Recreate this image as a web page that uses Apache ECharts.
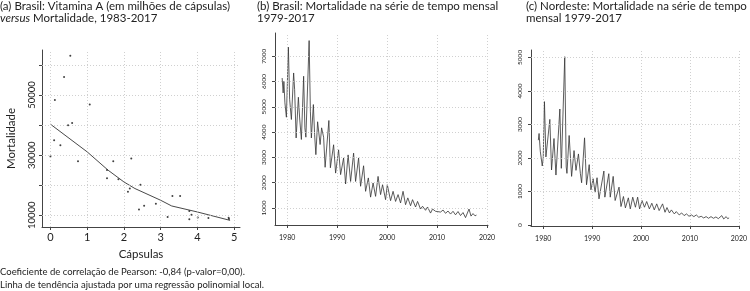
<!DOCTYPE html>
<html>
<head>
<meta charset="utf-8">
<script src="https://cdn.jsdelivr.net/npm/echarts@6/dist/echarts.min.js"></script>
<style>
  html, body { margin: 0; padding: 0; background: #fff; }
  #chart { width: 750px; height: 291px; }
</style>
</head>
<body>
<div id="chart"></div>
<script>
'use strict';

// (a) cápsulas (milhões) x mortalidade, 1983-2017
var capsulas = [0.54, 0.37, 0.12, 1.07, 0.48, 0.59, 0.10, 0.27, 0.0, 0.75, 1.71, 2.2, 1.54, 1.54, 1.85,
    2.45, 2.16, 2.11, 3.32, 3.53, 2.87, 2.55, 2.41, 3.78, 3.84, 3.19, 4.01, 4.3, 3.78, 4.85, 4.86];
var mortalidade = [63100, 56000, 48400, 46900, 40000, 40700, 35000, 33300, 29600, 28000, 28000, 28900, 25100, 22300, 22000,
    20200, 18900, 17800, 16400, 16400, 13800, 13200, 11900, 11400, 10200, 9400, 9300, 9100, 8700, 9200, 8800];
// linha de tendência (loess)
var trendX = [0, 1.0, 1.57, 2.0, 2.3, 3.0, 3.3, 4.0, 4.89];
var trendY = [40300, 31100, 25000, 21100, 18900, 15000, 13100, 11100, 8300];

// (b) Brasil, série mensal (picos e vales)
var brasilT = [1979.0, 1979.2, 1979.35, 1979.55, 1979.85, 1980.25, 1980.5, 1980.85, 1981.3, 1981.5, 1981.8,
    1982.25, 1982.5, 1982.85, 1983.3, 1983.55, 1983.75, 1984.4, 1984.65, 1984.85, 1985.25, 1985.5, 1985.75,
    1986.1, 1986.6, 1986.9, 1987.3, 1987.6, 1988.35, 1988.65, 1989.3, 1989.7, 1990.3, 1990.7, 1991.3, 1991.7,
    1992.2, 1992.7, 1993.3, 1993.7, 1994.3, 1994.7, 1995.3, 1995.7, 1996.25, 1996.7, 1997.2, 1997.7,
    1998.2, 1998.7, 1999.1, 1999.7, 2000.05, 2000.7, 2001.2, 2001.7, 2002.2, 2002.7, 2003.2, 2003.7,
    2004.15, 2004.7, 2005.1, 2005.7, 2006.1, 2006.7, 2007.1, 2007.7, 2008.1, 2008.7, 2009.1, 2009.7,
    2010.1, 2010.7, 2011.2, 2011.7, 2012.2, 2012.7, 2013.2, 2013.7, 2014.2, 2014.7, 2015.2, 2015.7,
    2016.4, 2016.8, 2017.2, 2017.6, 2017.9];
var brasilV = [6140, 5550, 6010, 5160, 4590, 7360, 5300, 4500, 6340, 5680, 3770,
    5380, 4560, 3710, 6210, 4170, 3800, 7620, 4830, 3770, 5090, 3900, 3110,
    4410, 3510, 4170, 3800, 2610, 4460, 2590, 3500, 2380, 3300, 2320, 2980, 1950,
    3100, 2050, 3170, 2050, 2980, 1860, 2670, 1660, 2190, 1430, 1990, 1460,
    2250, 1530, 1920, 1330, 1920, 1290, 1660, 1260, 1530, 1200, 1660, 1130,
    1400, 1090, 1330, 1040, 1260, 960, 1070, 910, 1040, 800, 960, 870,
    935, 840, 920, 790, 880, 760, 870, 730, 860, 700, 820, 620,
    960, 680, 780, 690, 720];

// (c) Nordeste, série mensal (picos e vales)
var nordesteT = [1979.0, 1979.15, 1979.4, 1979.8, 1980.0, 1980.25, 1980.55, 1980.8, 1981.35, 1981.7,
    1982.2, 1982.6, 1983.4, 1983.7, 1984.4, 1984.7, 1984.85, 1985.3, 1985.8, 1986.3, 1986.7, 1987.2, 1987.6,
    1987.85, 1988.45, 1988.85, 1989.4, 1989.75, 1990.2, 1990.6, 1991.0, 1991.4, 1992.4, 1992.6, 1993.4, 1993.7,
    1994.3, 1994.7, 1995.5, 1995.9, 1996.4, 1996.8, 1997.4, 1997.8, 1998.3, 1998.85, 1999.3, 1999.7,
    2000.2, 2000.7, 2001.15, 2001.7, 2002.2, 2002.7, 2003.2, 2003.7, 2004.4, 2004.9, 2005.3, 2005.8,
    2006.2, 2006.8, 2007.2, 2007.8, 2008.3, 2008.8, 2009.3, 2009.8, 2010.3, 2010.8, 2011.3, 2011.8,
    2012.3, 2012.8, 2013.3, 2013.8, 2014.3, 2014.8, 2015.3, 2015.8, 2016.5, 2016.9, 2017.4, 2017.7, 2018.0];
var nordesteV = [2530, 2730, 2200, 1760, 2000, 3680, 2030, 2030, 3150, 1640,
    2580, 1490, 3460, 1690, 5020, 1730, 1540, 2670, 1450, 2220, 1630, 2120, 1530,
    1260, 2600, 1200, 1800, 1050, 1380, 980, 1410, 780, 1610, 830, 1530, 830,
    1450, 730, 1130, 550, 850, 510, 810, 480, 830, 530, 830, 480,
    730, 530, 700, 480, 650, 450, 630, 430, 630, 380, 520, 360,
    450, 330, 400, 300, 360, 280, 330, 260, 300, 250, 300, 230,
    260, 210, 250, 200, 250, 200, 240, 190, 280, 180, 250, 190, 210];

// ticks
var capsTicks = [0, 1, 2, 3, 4, 5];
var mortTicks = [10000, 20000, 30000, 40000, 50000, 60000];
var anoTicks = [1980, 1990, 2000, 2010, 2020];
var brasilTicks = [1000, 2000, 3000, 4000, 5000, 6000, 7000];
var nordesteTicks = [0, 1000, 2000, 3000, 4000, 5000];

function pares(xs, ys) {
    return xs.map(function (x, i) { return [x, ys[i]]; });
}

function gradeLinhas(xs, ys) {
    var d = [];
    xs.forEach(function (v) { d.push({ xAxis: v }); });
    ys.forEach(function (v) { if (v > 0) d.push({ yAxis: v }); });
    return {
        silent: true,
        symbol: 'none',
        animation: false,
        label: { show: false },
        emphasis: { disabled: true },
        lineStyle: { color: '#c4c4c4', type: [1, 2], width: 0.8 },
        data: d
    };
}

var fonte = 'Lato';
var corTexto = '#222';

function eixo(gridIndex, min, max, ticks, opts) {
    var a = {
        type: 'value',
        gridIndex: gridIndex,
        min: min,
        max: max,
        splitLine: { show: false },
        axisLine: { show: true, onZero: false, lineStyle: { color: '#444', width: 1 } },
        axisTick: { show: true, length: 3, customValues: ticks, lineStyle: { color: '#444' } },
        axisLabel: {
            customValues: opts.labels || ticks,
            formatter: function (v) { return String(v); },
            showMinLabel: true,
            showMaxLabel: true,
            hideOverlap: false,
            fontFamily: fonte,
            fontSize: opts.fontSize,
            color: corTexto,
            margin: opts.margin,
            rotate: opts.rotate || 0
        }
    };
    if (opts.name) {
        a.name = opts.name;
        a.nameLocation = 'middle';
        a.nameGap = opts.nameGap;
        a.nameTextStyle = { fontFamily: fonte, fontSize: 11.5, color: corTexto };
    }
    return a;
}

var myChart = echarts.init(document.getElementById('chart'), null, { renderer: 'canvas' });

var option = {
    animation: false,
    backgroundColor: '#fff',
    title: [
        {
            left: 0, top: 0,
            text: '(a) Brasil: Vitamina A (em milhões de cápsulas)\n{i|versus} Mortalidade, 1983-2017',
            textStyle: {
                fontFamily: fonte, fontSize: 11.5, fontWeight: 'normal', color: corTexto, lineHeight: 12.5,
                rich: { i: { fontFamily: fonte, fontSize: 11.5, fontStyle: 'italic', color: corTexto } }
            },
            padding: 0
        },
        {
            left: 257, top: 0,
            text: '(b) Brasil: Mortalidade na série de tempo mensal\n1979-2017',
            textStyle: { fontFamily: fonte, fontSize: 11.5, fontWeight: 'normal', color: corTexto, lineHeight: 12.5 },
            padding: 0
        },
        {
            left: 526, top: 0,
            text: '(c) Nordeste: Mortalidade na série de tempo\nmensal 1979-2017',
            textStyle: { fontFamily: fonte, fontSize: 11.5, fontWeight: 'normal', color: corTexto, lineHeight: 12.5 },
            padding: 0
        },
        {
            left: 0, top: 265,
            text: 'Coeficiente de correlação de Pearson: -0,84 (p-valor=0,00).\nLinha de tendência ajustada por uma regressão polinomial local.',
            textStyle: { fontFamily: fonte, fontSize: 9.5, fontWeight: 'normal', color: corTexto, lineHeight: 13 },
            padding: 0
        }
    ],
    grid: [
        { left: 42, top: 50, width: 198, height: 177 },
        { left: 275, top: 33, width: 213, height: 192 },
        { left: 531, top: 50, width: 209, height: 176 }
    ],
    xAxis: [
        eixo(0, -0.23, 5.16, capsTicks, { fontSize: 11, margin: 5, name: 'Cápsulas', nameGap: 20 }),
        eixo(1, 1977.57, 2020.2, anoTicks, { fontSize: 7, margin: 9 }),
        eixo(2, 1977.5, 2020.1, anoTicks, { fontSize: 7, margin: 9 })
    ],
    yAxis: [
        eixo(0, 6100, 65000, mortTicks, { fontSize: 9.5, margin: 5, rotate: 90, labels: [10000, 30000, 50000], name: 'Mortalidade', nameGap: 25 }),
        eixo(1, 328, 7920, brasilTicks, { fontSize: 6.5, margin: 8, rotate: 90 }),
        eixo(2, -30, 5220, nordesteTicks, { fontSize: 6.5, margin: 8, rotate: 90 })
    ],
    series: [
        {
            name: 'Mortalidade',
            type: 'scatter',
            xAxisIndex: 0, yAxisIndex: 0,
            symbol: 'circle',
            symbolSize: 2,
            itemStyle: { color: '#111' },
            data: pares(capsulas, mortalidade),
            markLine: gradeLinhas(capsTicks, mortTicks)
        },
        {
            name: 'Tendência',
            type: 'line',
            xAxisIndex: 0, yAxisIndex: 0,
            showSymbol: false,
            lineStyle: { color: '#333', width: 0.9 },
            data: pares(trendX, trendY)
        },
        {
            name: 'Brasil',
            type: 'line',
            xAxisIndex: 1, yAxisIndex: 1,
            showSymbol: false,
            lineStyle: { color: '#333', width: 0.8 },
            data: pares(brasilT, brasilV),
            markLine: gradeLinhas(anoTicks, brasilTicks)
        },
        {
            name: 'Nordeste',
            type: 'line',
            xAxisIndex: 2, yAxisIndex: 2,
            showSymbol: false,
            lineStyle: { color: '#333', width: 0.8 },
            data: pares(nordesteT, nordesteV),
            markLine: gradeLinhas(anoTicks, nordesteTicks)
        }
    ]
};

myChart.setOption(option);
</script>
</body>
</html>
